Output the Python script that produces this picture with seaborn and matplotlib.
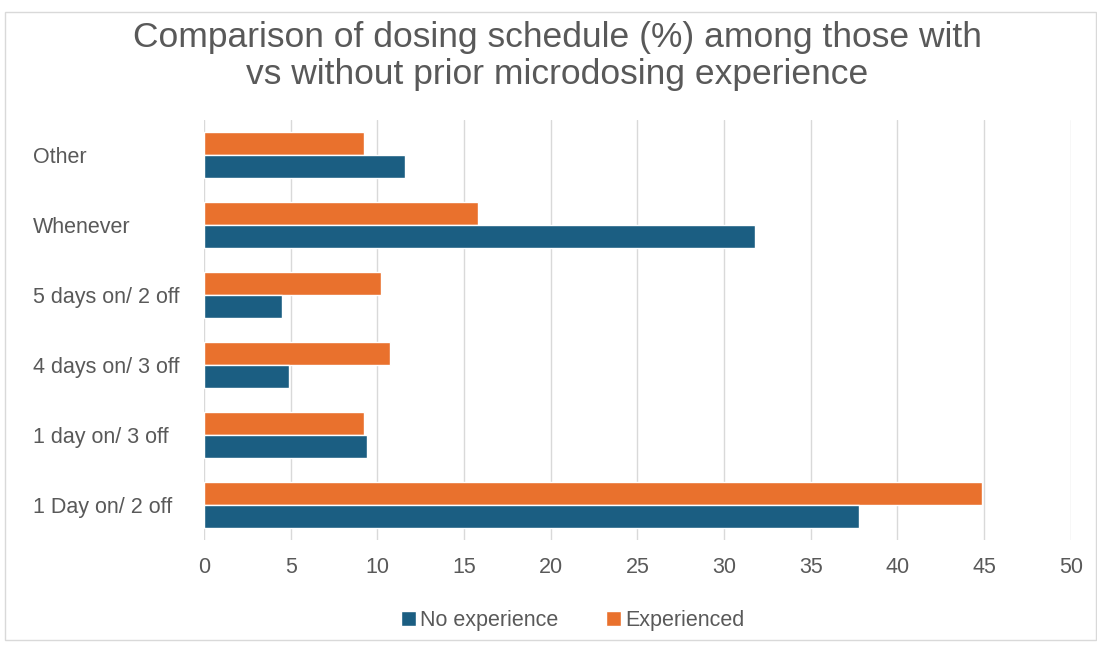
import seaborn as sns
import matplotlib.pyplot as plt
import pandas as pd
from matplotlib.patches import Rectangle

sns.set_theme(style="white")
plt.rcParams['font.family'] = ['Liberation Sans', 'DejaVu Sans']

categories = ["Other", "Whenever", "5 days on/ 2 off", "4 days on/ 3 off",
              "1 day on/ 3 off", "1 Day on/ 2 off"]
no_experience = [11.6, 31.8, 4.5, 4.9, 9.4, 37.8]
experienced = [9.2, 15.8, 10.2, 10.7, 9.2, 44.9]
xticks = [0, 5, 10, 15, 20, 25, 30, 35, 40, 45, 50]

df = pd.DataFrame({
    "schedule": categories * 2,
    "pct": experienced + no_experience,
    "group": ["Experienced"] * len(categories) + ["No experience"] * len(categories),
})

palette = {"No experience": "#1B5E82", "Experienced": "#E9712D"}
grey = "#595959"
fs = 15.5

fig = plt.figure(figsize=(10.97, 6.45), dpi=100)
ax = fig.add_axes([0.186, 0.163, 0.790, 0.651])

sns.barplot(data=df, x="pct", y="schedule", hue="group",
            hue_order=["Experienced", "No experience"], order=categories,
            palette=palette, orient="h", width=0.66, saturation=1,
            ax=ax, zorder=3)

ax.set_xlim(0, 50)
ax.set_xticks(xticks)
ax.set_xticklabels([str(t) for t in xticks], fontsize=fs, color=grey)
ax.xaxis.grid(True, color="#D9D9D9", linewidth=1, zorder=0)
ax.tick_params(axis="x", length=0, pad=12)
ax.tick_params(axis="y", length=0, pad=10)
for lab in ax.get_yticklabels():
    lab.set_fontsize(fs)
    lab.set_color(grey)
    lab.set_horizontalalignment("left")
    lab.set_x(-0.181)
ax.set_xlabel("")
ax.set_ylabel("")
sns.despine(ax=ax, left=True, bottom=True)

# legend: No experience first
handles, labels = ax.get_legend_handles_labels()
order = [labels.index("No experience"), labels.index("Experienced")]
ax.legend([handles[i] for i in order], [labels[i] for i in order],
          loc="upper center", bbox_to_anchor=(0.425, -0.12), ncol=2,
          frameon=False, fontsize=fs, handlelength=0.7, handleheight=0.7,
          handletextpad=0.2, columnspacing=2.2, labelcolor=grey)

fig.text(0.508, 0.913, "Comparison of dosing schedule (%) among those with\n"
         "vs without prior microdosing experience",
         ha="center", va="center", fontsize=25.5, color=grey, linespacing=1.15)

fig.patches.append(Rectangle((0.005, 0.008), 0.994, 0.974, transform=fig.transFigure,
                             fill=False, edgecolor="#D9D9D9", linewidth=1))

fig.savefig("out.png", dpi=100)
